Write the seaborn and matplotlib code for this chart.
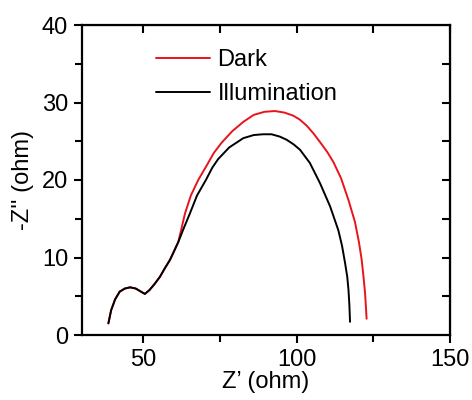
import seaborn as sns
import matplotlib.pyplot as plt
import numpy as np
import pandas as pd

# shared low-frequency arc
base_x = [38.6, 39.5, 40.8, 42.3, 44.0, 45.7, 47.5, 49.2, 50.5, 52.0, 53.5, 55.4, 57.0, 58.7, 60.0, 61.4]
base_y = [1.5, 3.2, 4.6, 5.6, 6.0, 6.15, 6.0, 5.6, 5.3, 5.8, 6.5, 7.5, 8.6, 9.7, 10.8, 12.0]

dark_x = base_x + [63.6, 65.5, 67.9, 70.7, 73.0, 75.5, 79.0, 82.6, 86.0, 89.5, 92.9, 96.0, 98.9,
                   101.0, 103.3, 105.5, 107.6, 110.0, 112.0, 114.5, 116.9, 119.0, 120.3, 121.2,
                   121.8, 122.3, 122.6, 122.8]
dark_y = base_y + [15.7, 18.0, 20.0, 21.9, 23.5, 24.8, 26.3, 27.5, 28.4, 28.8, 28.9, 28.7, 28.3,
                   27.8, 27.0, 26.0, 24.9, 23.6, 22.3, 20.2, 17.4, 14.6, 12.0, 9.7,
                   7.5, 5.4, 3.5, 2.1]

illum_x = base_x + [63.2, 65.2, 67.5, 70.4, 72.5, 74.4, 78.0, 82.6, 86.0, 89.0, 91.8, 94.5, 96.7,
                    99.0, 101.1, 104.3, 107.6, 110.9, 113.6, 114.8, 115.8, 116.5, 116.9, 117.2, 117.4]
illum_y = base_y + [13.8, 15.7, 18.0, 20.0, 21.6, 22.7, 24.2, 25.4, 25.8, 25.9, 25.9, 25.6, 25.2,
                    24.6, 23.9, 22.2, 19.6, 16.6, 13.5, 11.5, 9.25, 7.5, 5.8, 3.8, 1.7]

df = pd.concat([
    pd.DataFrame({"x": dark_x, "y": dark_y, "s": "Dark"}),
    pd.DataFrame({"x": illum_x, "y": illum_y, "s": "Illumination"}),
])

sns.set_style("ticks", {"axes.edgecolor": "black", "text.color": "black",
                        "xtick.color": "black", "ytick.color": "black",
                        "axes.labelcolor": "black"})
plt.rcParams['font.family'] = ['Liberation Sans', 'DejaVu Sans']

fig = plt.figure(figsize=(4.72, 4.0), dpi=100)
ax = fig.add_axes([82/472, 1-335/400, 368/472, 310/400])

sns.lineplot(data=df, x="x", y="y", hue="s", palette={"Dark": "#e8141b", "Illumination": "black"},
             sort=False, estimator=None, lw=1.4, ax=ax)

fs = 17
ax.set_xlim(30, 150)
ax.set_ylim(0, 40)
ax.set_xticks([50, 100, 150])
ax.set_xticks([75, 125], minor=True)
ax.set_yticks([0, 10, 20, 30, 40])
ax.set_yticks([5, 15, 25, 35], minor=True)
ax.tick_params(which='major', direction='out', length=6, width=1.5, labelsize=fs, pad=4)
ax.tick_params(which='minor', direction='out', length=5, width=1.5)
for sp in ax.spines.values():
    sp.set_linewidth(1.6)

top = ax.secondary_xaxis('top')
top.set_xticks([50, 75, 100, 125, 150])
top.set_xticklabels([])
top.tick_params(direction='in', length=6, width=1.5)
right = ax.secondary_yaxis('right')
right.set_yticks([5, 10, 15, 20, 25, 30, 35])
right.set_yticklabels([])
right.tick_params(direction='in', length=6, width=1.5)

ax.set_xlabel("Z\u2019 (ohm)", fontsize=fs, labelpad=0)
ax.set_ylabel("-Z'' (ohm)", fontsize=fs, labelpad=6)

ax.legend(loc='upper left', bbox_to_anchor=(156/472, 1-49/400), bbox_transform=fig.transFigure,
          frameon=False, fontsize=fs, handlelength=2.3, handletextpad=0.3, labelspacing=0.5,
          borderpad=0, borderaxespad=0)

fig.savefig("out.png", dpi=100)
